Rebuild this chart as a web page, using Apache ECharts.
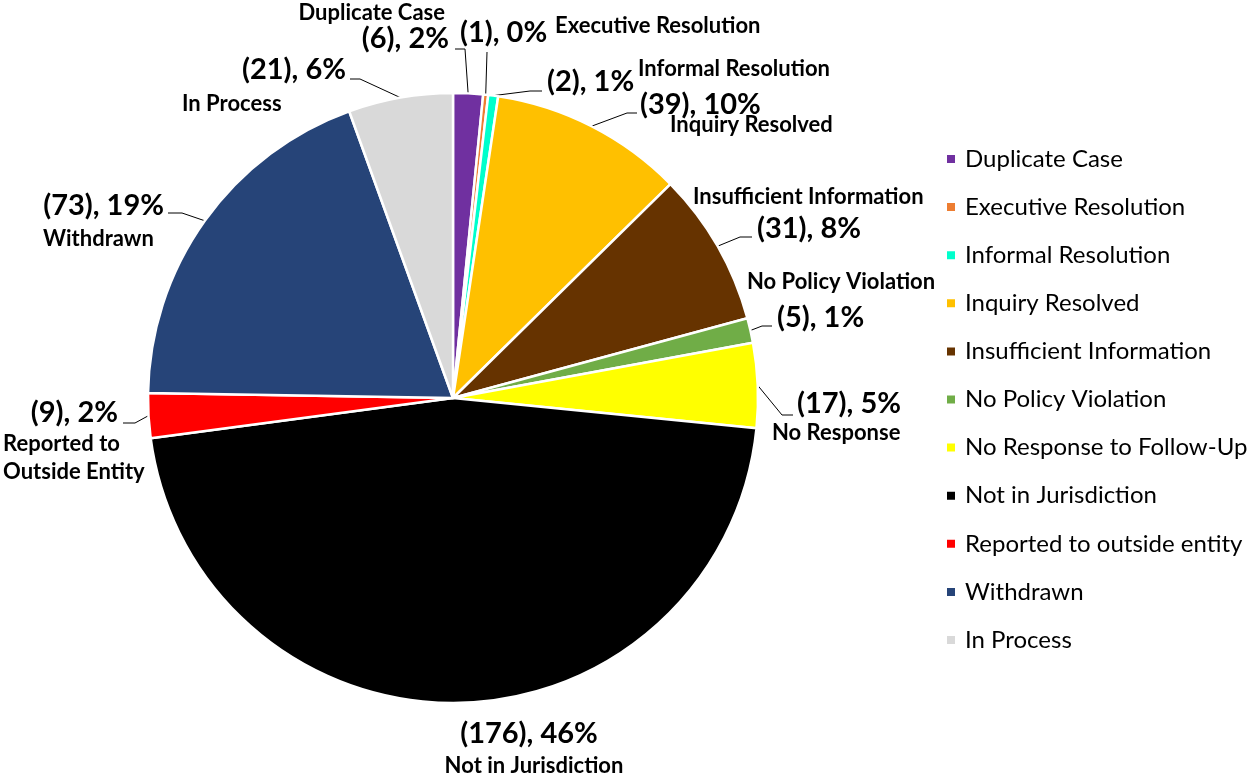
<!DOCTYPE html>
<html>
<head>
<meta charset="utf-8">
<script src="https://cdn.jsdelivr.net/npm/echarts@6/dist/echarts.min.js"></script>
<style>
  html, body { margin: 0; padding: 0; background: #ffffff; }
  #chart { width: 1252px; height: 781px; }
</style>
</head>
<body>
<div id="chart"></div>
<script>
// ---- data ----
const categories = ['Duplicate Case', 'Executive Resolution', 'Informal Resolution', 'Inquiry Resolved',
  'Insufficient Information', 'No Policy Violation', 'No Response to Follow-Up', 'Not in Jurisdiction',
  'Reported to outside entity', 'Withdrawn', 'In Process'];
const counts = [6, 1, 2, 39, 31, 5, 17, 176, 9, 73, 21];
const percentLabels = ['2%', '0%', '1%', '10%', '8%', '1%', '5%', '46%', '2%', '19%', '6%'];
const sliceLabelNames = ['Duplicate Case', 'Executive Resolution', 'Informal Resolution', 'Inquiry Resolved',
  'Insufficient Information', 'No Policy Violation', 'No Response', 'Not in Jurisdiction',
  'Reported to\nOutside Entity', 'Withdrawn', 'In Process'];

// ---- styling / layout ----
const colors = ['#7030A0', '#ED7D31', '#00FFCC', '#FFC000', '#663300', '#70AD47', '#FFFF00', '#000000',
  '#FF0000', '#264478', '#D9D9D9'];
const FONT = 'Lato, "Open Sans", sans-serif';
// [x, y(center), align]
const valuePos = [[449, 39, 'right'], [460, 33, 'left'], [547, 82, 'left'], [640, 105, 'left'],
  [757, 229, 'left'], [777, 318, 'left'], [797, 404, 'left'], [529, 734, 'center'],
  [118, 413, 'right'], [164, 206, 'right'], [346, 70, 'right']];
const namePos = [[445, 12.5, 'right'], [555, 25.5, 'left'], [638, 68.5, 'left'], [670, 125, 'left'],
  [693, 196.5, 'left'], [747, 282, 'left'], [772, 433, 'left'], [534, 766, 'center'],
  [3, 458, 'left'], [43, 238.5, 'left'], [182, 103.5, 'left']];
// leader lines: points after the slice anchor (null = none)
const leaderPts = [
  [[465, 49], [455, 49]],
  [[487, 52]],
  [[530, 91], [542, 91]],
  [[627, 113], [637, 113]],
  [[740, 237], [752, 237]],
  [[762, 326], [772, 326]],
  [[782, 415], [793, 415]],
  null,
  [[135, 423], [123, 423]],
  [[182, 213], [168, 213]],
  [[360, 79], [350, 79]]
];

const pieData = categories.map((name, i) => ({
  name: name,
  value: counts[i],
  itemStyle: { color: colors[i] },
  labelLine: { show: leaderPts[i] !== null }
}));

const chart = echarts.init(document.getElementById('chart'), null, { renderer: 'canvas' });

const option = {
  backgroundColor: '#ffffff',
  animation: false,
  legend: {
    orient: 'vertical',
    left: 940,
    top: 142,
    itemWidth: 10,
    itemHeight: 10,
    itemGap: 24.1,
    icon: 'rect',
    data: categories,
    textStyle: { fontFamily: FONT, fontSize: 24, lineHeight: 24, color: '#000', padding: [0, 0, 0, 4] }
  },
  series: [
    {
      type: 'pie',
      center: [453, 398],
      radius: 305,
      startAngle: 90,
      clockwise: true,
      avoidLabelOverlap: false,
      itemStyle: { borderColor: '#ffffff', borderWidth: 2.5 },
      emphasis: { disabled: true },
      data: pieData,
      label: {
        show: true,
        position: 'outside',
        formatter: p => '(' + counts[p.dataIndex] + '), ' + percentLabels[p.dataIndex],
        fontFamily: FONT,
        fontWeight: 'bold',
        fontSize: 29,
        lineHeight: 30,
        color: '#000'
      },
      labelLine: { show: true, length: 10, length2: 10, lineStyle: { color: '#000', width: 1 } },
      labelLayout: function (params) {
        const i = params.dataIndex;
        const p = valuePos[i];
        const res = { x: p[0], y: p[1], align: p[2], verticalAlign: 'middle' };
        if (leaderPts[i] && params.labelLinePoints) {
          res.labelLinePoints = [params.labelLinePoints[0]].concat(leaderPts[i]);
        }
        return res;
      }
    },
    {
      type: 'pie',
      center: [453, 398],
      radius: 305,
      startAngle: 90,
      clockwise: true,
      silent: true,
      legendHoverLink: false,
      avoidLabelOverlap: false,
      itemStyle: { color: 'rgba(0,0,0,0)', borderWidth: 0 },
      emphasis: { disabled: true },
      data: categories.map((name, i) => ({ name: name, value: counts[i] })),
      label: {
        show: true,
        position: 'outside',
        formatter: p => sliceLabelNames[p.dataIndex],
        fontFamily: FONT,
        fontWeight: 'bold',
        fontSize: 22,
        lineHeight: 28,
        color: '#000'
      },
      labelLine: { show: false },
      labelLayout: function (params) {
        const p = namePos[params.dataIndex];
        return { x: p[0], y: p[1], align: p[2], verticalAlign: 'middle' };
      }
    }
  ]
};
chart.setOption(option);
</script>
</body>
</html>
